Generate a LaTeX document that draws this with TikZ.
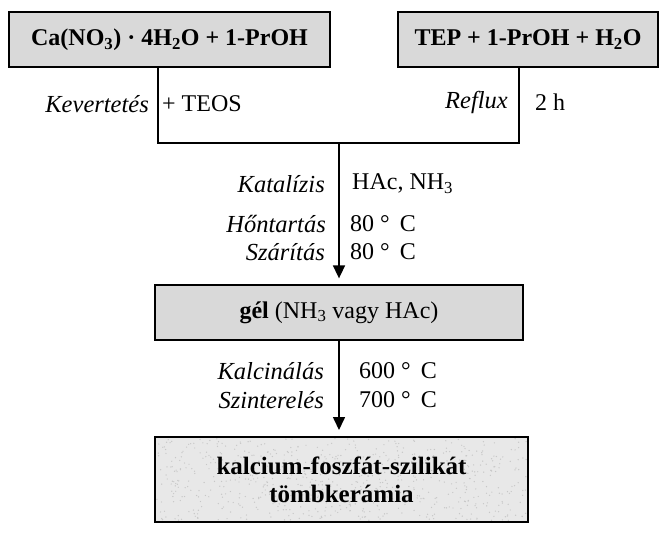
\documentclass[tikz,border=0pt]{standalone}
\usepackage{fontspec}
\setmainfont{Liberation Serif}
\usetikzlibrary{arrows.meta}
\tikzset{
  box/.style={draw=black, line width=1.3pt, fill=black!15, inner sep=0pt, font=\fontsize{24}{28}\selectfont},
  lbl/.style={font=\fontsize{24.5}{28}\selectfont\itshape, inner sep=0pt, anchor=east},
  val/.style={font=\fontsize{24}{28}\selectfont, inner sep=0pt, anchor=west},
  conn/.style={line width=1.6pt},
  arr/.style={line width=1.6pt, -{Triangle[width=12pt,length=13pt]}, shorten >=6pt},
}
\begin{document}
\begin{tikzpicture}[x=1pt,y=-1pt]
\useasboundingbox (0,0) rectangle (666,536);
% boxes
\node[box, minimum width=321pt, minimum height=55pt] (A) at (169.5,39.5) {\bfseries Ca(NO\textsubscript{3}) · 4H\textsubscript{2}O + 1-PrOH};
\node[box, minimum width=260pt, minimum height=55pt] (B) at (528,39.5) {\bfseries TEP + 1-PrOH + H\textsubscript{2}O};
\node[box, minimum width=368pt, minimum height=55pt] (gel) at (339,312.5) {\textbf{gél} (NH\textsubscript{3} vagy HAc)};
% final box with texture
\fill[black!9] (155,437) rectangle (528,522);
\pgfmathsetseed{42}
\foreach \i in {1,...,700}{
  \pgfmathsetmacro{\px}{341.5+185*rand}
  \pgfmathsetmacro{\py}{479.5+41*rand}
  \fill[black!22] (\px,\py) circle (0.7pt);
}
\node[draw=black, line width=2pt, minimum width=373pt, minimum height=85pt, inner sep=0pt, align=center, font=\fontsize{25}{28}\selectfont\bfseries] (F) at (341.5,479.5) {kalcium-foszfát-szilikát\\tömbkerámia};
% junction coordinates
\coordinate (j1) at (158,143);
\coordinate (j2) at (519,143);
\coordinate (jm) at (339,143);
\draw[conn] (A.south -| j1) -- (j1) -- (j2) -- (B.south -| j2);
\draw[arr] (jm) -- (gel.north);
\draw[arr] (gel.south) -- (F.north -| gel.south);
% labels
\node[lbl] (l1) at (149,104) {Kevertetés};
\node[val] (v1) at (162,104) {+ TEOS};
\node[lbl] (l2) at (508,102) {Reflux};
\node[val] (v2) at (535,102) {2 h};
\node[lbl] (l3) at (325,184) {Katalízis};
\node[val] (v3) at (352,184) {HAc, NH\textsubscript{3}};
\node[lbl] (l4) at (326,224) {Hőntartás};
\node[val] (v4) at (350,224) {80 °\ \,C};
\node[lbl] (l5) at (325,252) {Szárítás};
\node[val] (v5) at (350,252) {80 °\ \,C};
\node[lbl] (l6) at (324,371) {Kalcinálás};
\node[val] (v6) at (359,371) {600 °\ \,C};
\node[lbl] (l7) at (324,400) {Szinterelés};
\node[val] (v7) at (359,400) {700 °\ \,C};
\end{tikzpicture}
\end{document}
